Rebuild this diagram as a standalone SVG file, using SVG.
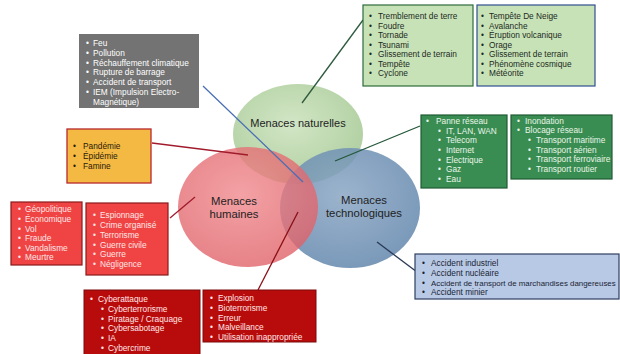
<svg xmlns="http://www.w3.org/2000/svg" width="620" height="354" viewBox="0 0 620 354">
<defs>
<style>
text{font-family:"Liberation Sans",Arial,sans-serif;font-size:8.3px}
.lbl{font-size:11.3px;fill:#1e1e1e;text-anchor:middle}
.w{fill:#ffffff}
.pk{fill:#ffe6e6}
.lg{fill:#e8f6e8}
.dk{fill:#1c2a1c}
.db{fill:#1a1f33}
.conn{fill:none;stroke-width:1.3}
</style>
<radialGradient id="gG" cx="0.45" cy="0.4" r="0.6"><stop offset="0" stop-color="#cde3bf"/><stop offset="1" stop-color="#a9cb98"/></radialGradient>
<radialGradient id="gR" cx="0.45" cy="0.4" r="0.6"><stop offset="0" stop-color="#f08a8e"/><stop offset="1" stop-color="#e0636a"/></radialGradient>
<radialGradient id="gB" cx="0.45" cy="0.4" r="0.6"><stop offset="0" stop-color="#8aa6c4"/><stop offset="1" stop-color="#6387ad"/></radialGradient>
</defs>
<rect width="620" height="354" fill="#ffffff"/>

<g id="circles">
<g id="c-naturelles">
<ellipse cx="298" cy="134" rx="65" ry="50" fill="url(#gG)" opacity="0.9"/>
<text class="lbl" x="298" y="127" style="font-size:11px">Menaces naturelles</text>
</g>
<g id="c-technologiques">
<ellipse cx="350" cy="208" rx="70" ry="60" fill="url(#gB)" opacity="0.85"/>
</g>
<g id="c-humaines">
<ellipse cx="248" cy="207" rx="70" ry="60" fill="url(#gR)" opacity="0.8"/>
</g>
<text class="lbl" x="234" y="205">Menaces</text>
<text class="lbl" x="234" y="217.5">humaines</text>
<text class="lbl" x="364" y="204">Menaces</text>
<text class="lbl" x="364" y="216.5">technologiques</text>
</g>

<g id="connectors">
<line class="conn" x1="203" y1="86" x2="303" y2="182" stroke="#4a6fb5"/>
<line class="conn" x1="363" y1="20" x2="302" y2="103" stroke="#2e5a3e"/>
<line class="conn" x1="152" y1="143" x2="248" y2="155" stroke="#a01c2c"/>
<line class="conn" x1="420" y1="126" x2="335" y2="161" stroke="#24583a"/>
<line class="conn" x1="170" y1="218" x2="195" y2="197" stroke="#a01c2c"/>
<line class="conn" x1="298" y1="212" x2="258" y2="290" stroke="#8a0f14"/>
<line class="conn" x1="377" y1="242" x2="417" y2="272" stroke="#2a3a55"/>
</g>

<g id="box-gris">
<rect x="79" y="34" width="120" height="74" fill="#737373"/>
<text class="w"><tspan x="86" y="46">•</tspan><tspan x="93">Feu</tspan></text>
<text class="w"><tspan x="86" y="56">•</tspan><tspan x="93">Pollution</tspan></text>
<text class="w"><tspan x="86" y="66">•</tspan><tspan x="93">Réchauffement climatique</tspan></text>
<text class="w"><tspan x="86" y="75">•</tspan><tspan x="93">Rupture de barrage</tspan></text>
<text class="w"><tspan x="86" y="85">•</tspan><tspan x="93">Accident de transport</tspan></text>
<text class="w"><tspan x="86" y="95">•</tspan><tspan x="93">IEM (Impulsion Electro-</tspan></text>
<text class="w" x="93" y="105">Magnétique)</text>
</g>

<g id="box-naturel-1">
<rect x="363" y="5" width="110" height="81" fill="#c8e2b8" stroke="#2e6b3a" stroke-width="1.2"/>
<text class="dk"><tspan x="369" y="19">•</tspan><tspan x="378">Tremblement de terre</tspan></text>
<text class="dk"><tspan x="369" y="29">•</tspan><tspan x="378">Foudre</tspan></text>
<text class="dk"><tspan x="369" y="38">•</tspan><tspan x="378">Tornade</tspan></text>
<text class="dk"><tspan x="369" y="48">•</tspan><tspan x="378">Tsunami</tspan></text>
<text class="dk"><tspan x="369" y="57">•</tspan><tspan x="378">Glissement de terrain</tspan></text>
<text class="dk"><tspan x="369" y="67">•</tspan><tspan x="378">Tempête</tspan></text>
<text class="dk"><tspan x="369" y="76">•</tspan><tspan x="378">Cyclone</tspan></text>
</g>

<g id="box-naturel-2">
<rect x="477" y="5" width="118" height="81" fill="#c8e2b8" stroke="#2f4f8f" stroke-width="1.2"/>
<text class="dk"><tspan x="481" y="19">•</tspan><tspan x="489">Tempête De Neige</tspan></text>
<text class="dk"><tspan x="481" y="29">•</tspan><tspan x="489">Avalanche</tspan></text>
<text class="dk"><tspan x="481" y="38">•</tspan><tspan x="489">Éruption volcanique</tspan></text>
<text class="dk"><tspan x="481" y="48">•</tspan><tspan x="489">Orage</tspan></text>
<text class="dk"><tspan x="481" y="57">•</tspan><tspan x="489">Glissement de terrain</tspan></text>
<text class="dk"><tspan x="481" y="67">•</tspan><tspan x="489">Phénomène cosmique</tspan></text>
<text class="dk"><tspan x="481" y="76">•</tspan><tspan x="489">Météorite</tspan></text>
</g>

<g id="box-sanitaire">
<rect x="67" y="129" width="84" height="54" fill="#f4b942" stroke="#b8282c" stroke-width="1.3"/>
<text fill="#2a1a0a"><tspan x="73" y="149">•</tspan><tspan x="83">Pandémie</tspan></text>
<text fill="#2a1a0a"><tspan x="73" y="159">•</tspan><tspan x="83">Épidémie</tspan></text>
<text fill="#2a1a0a"><tspan x="73" y="169">•</tspan><tspan x="83">Famine</tspan></text>
</g>

<g id="box-techno-1">
<rect x="421" y="115" width="86" height="73" fill="#3a8d52" stroke="#1f5a32" stroke-width="1.2"/>
<text class="lg"><tspan x="426" y="124">•</tspan><tspan x="436">Panne réseau</tspan></text>
<text class="lg"><tspan x="438" y="134">•</tspan><tspan x="446">IT, LAN, WAN</tspan></text>
<text class="lg"><tspan x="438" y="143">•</tspan><tspan x="446">Telecom</tspan></text>
<text class="lg"><tspan x="438" y="153">•</tspan><tspan x="446">Internet</tspan></text>
<text class="lg"><tspan x="438" y="163">•</tspan><tspan x="446">Electrique</tspan></text>
<text class="lg"><tspan x="438" y="172">•</tspan><tspan x="446">Gaz</tspan></text>
<text class="lg"><tspan x="438" y="182">•</tspan><tspan x="446">Eau</tspan></text>
</g>

<g id="box-techno-2">
<rect x="511" y="115" width="101" height="64" fill="#3a8d52" stroke="#1f5a32" stroke-width="1.2"/>
<text class="lg"><tspan x="517" y="124">•</tspan><tspan x="525">Inondation</tspan></text>
<text class="lg"><tspan x="517" y="133">•</tspan><tspan x="525">Blocage réseau</tspan></text>
<text class="lg"><tspan x="528" y="143">•</tspan><tspan x="536">Transport maritime</tspan></text>
<text class="lg"><tspan x="528" y="153">•</tspan><tspan x="536">Transport aérien</tspan></text>
<text class="lg"><tspan x="528" y="162">•</tspan><tspan x="536">Transport ferroviaire</tspan></text>
<text class="lg"><tspan x="528" y="172">•</tspan><tspan x="536">Transport routier</tspan></text>
</g>

<g id="box-humain-1">
<rect x="11" y="202" width="71" height="63" fill="#f04444" stroke="#8b1a1a" stroke-width="1.2"/>
<text class="pk"><tspan x="18" y="212">•</tspan><tspan x="25">Géopolitique</tspan></text>
<text class="pk"><tspan x="18" y="222">•</tspan><tspan x="25">Économique</tspan></text>
<text class="pk"><tspan x="18" y="232">•</tspan><tspan x="25">Vol</tspan></text>
<text class="pk"><tspan x="18" y="241">•</tspan><tspan x="25">Fraude</tspan></text>
<text class="pk"><tspan x="18" y="251">•</tspan><tspan x="25">Vandalisme</tspan></text>
<text class="pk"><tspan x="18" y="260">•</tspan><tspan x="25">Meurtre</tspan></text>
</g>

<g id="box-humain-2">
<rect x="86" y="203" width="82" height="72" fill="#f04444" stroke="#8b1a1a" stroke-width="1.2"/>
<text class="pk"><tspan x="93" y="218">•</tspan><tspan x="100">Espionnage</tspan></text>
<text class="pk"><tspan x="93" y="228">•</tspan><tspan x="100">Crime organisé</tspan></text>
<text class="pk"><tspan x="93" y="238">•</tspan><tspan x="100">Terrorisme</tspan></text>
<text class="pk"><tspan x="93" y="248">•</tspan><tspan x="100">Guerre civile</tspan></text>
<text class="pk"><tspan x="93" y="257">•</tspan><tspan x="100">Guerre</tspan></text>
<text class="pk"><tspan x="93" y="267">•</tspan><tspan x="100">Négligence</tspan></text>
</g>

<g id="box-accidents">
<rect x="415" y="254" width="204" height="45" fill="#b8c9e6" stroke="#2f3f5f" stroke-width="1.2"/>
<text class="db"><tspan x="422" y="266">•</tspan><tspan x="431">Accident industriel</tspan></text>
<text class="db"><tspan x="422" y="276">•</tspan><tspan x="431">Accident nucléaire</tspan></text>
<text class="db"><tspan x="422" y="286">•</tspan><tspan x="431" style="font-size:7.9px">Accident de transport de marchandises dangereuses</tspan></text>
<text class="db"><tspan x="422" y="295">•</tspan><tspan x="431">Accident minier</tspan></text>
</g>

<g id="box-cyber">
<rect x="84" y="290" width="116" height="66" fill="#b80c0c" stroke="#7a0a0a" stroke-width="1"/>
<text class="pk"><tspan x="90" y="302">•</tspan><tspan x="98">Cyberattaque</tspan></text>
<text class="pk"><tspan x="101" y="312">•</tspan><tspan x="108">Cyberterrorisme</tspan></text>
<text class="pk"><tspan x="101" y="322">•</tspan><tspan x="108">Piratage / Craquage</tspan></text>
<text class="pk"><tspan x="101" y="331">•</tspan><tspan x="108">Cybersabotage</tspan></text>
<text class="pk"><tspan x="101" y="341">•</tspan><tspan x="108">IA</tspan></text>
<text class="pk"><tspan x="101" y="351">•</tspan><tspan x="108">Cybercrime</tspan></text>
</g>

<g id="box-malveillance">
<rect x="203" y="290" width="113" height="52" fill="#b80c0c" stroke="#7a0a0a" stroke-width="1"/>
<text class="pk"><tspan x="210" y="301">•</tspan><tspan x="218">Explosion</tspan></text>
<text class="pk"><tspan x="210" y="311">•</tspan><tspan x="218">Bioterrorisme</tspan></text>
<text class="pk"><tspan x="210" y="321">•</tspan><tspan x="218">Erreur</tspan></text>
<text class="pk"><tspan x="210" y="330">•</tspan><tspan x="218">Malveillance</tspan></text>
<text class="pk"><tspan x="210" y="340">•</tspan><tspan x="218">Utilisation inappropriée</tspan></text>
</g>
</svg>
